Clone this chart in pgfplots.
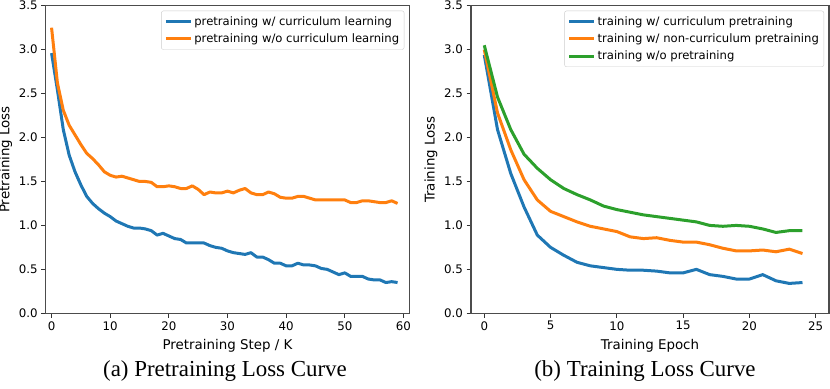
\documentclass[border=0pt]{standalone}
\usepackage{pgfplots}
\pgfplotsset{compat=1.18}
\usepackage{fontspec}
\setmainfont{DejaVu Sans}
\newfontfamily\capfont{Liberation Serif}
\definecolor{tabblue}{HTML}{1F77B4}
\definecolor{taborange}{HTML}{FF7F0E}
\definecolor{tabgreen}{HTML}{2CA02C}

\pgfplotsset{
  lossax/.style={
    scale only axis, width=363.6bp, height=307.6bp,
    ymin=0, ymax=3.5, ytick={0,0.5,1,1.5,2,2.5,3,3.5},
    tick pos=left, tick align=outside, major tick length=4.5bp,
    every tick/.style={black!80, line width=0.9bp},
    axis line style={black!70, line width=1.1bp},
    /pgf/number format/assume math mode=true,
    ticklabel style={font=\fontsize{11.8bp}{13bp}\selectfont},
    yticklabel style={/pgf/number format/.cd, fixed, fixed zerofill, precision=1},
    xticklabel style={/pgf/number format/fixed},
    label style={font=\fontsize{13.4bp}{15bp}\selectfont},
    xlabel style={yshift=-2bp},
    legend cell align=left,
    legend style={at={(1,1)}, anchor=north east, xshift=-5bp, yshift=-5bp,
      draw=black!20, rounded corners=2bp, fill=white,
      font=\fontsize{11.6bp}{13bp}\selectfont, inner xsep=3bp, inner ysep=3.5bp,
      row sep=3bp},
    legend image code/.code={\draw[##1, line width=3bp] (0bp,0bp) -- (25bp,0bp);},
    every axis plot/.append style={line width=3bp, line join=round},
  }
}

\begin{document}
\begin{tikzpicture}
\useasboundingbox (0,0) rectangle (830bp,389bp);

% (a) pretraining loss
\begin{axis}[lossax, at={(45.7bp,75.7bp)}, anchor=south west,
    xmin=-1, xmax=61, xtick={0,10,20,30,40,50,60},
    xlabel={Pretraining Step / K}, ylabel={Pretraining Loss}]
\addplot[tabblue] coordinates {
  (0,2.96)(1,2.54)(2,2.09)(3,1.80)(4,1.61)(5,1.46)(6,1.33)(7,1.25)(8,1.19)(9,1.14)
  (10,1.10)(11,1.05)(12,1.02)(13,0.99)(14,0.97)(15,0.97)(16,0.96)(17,0.94)(18,0.89)(19,0.91)
  (20,0.88)(21,0.85)(22,0.84)(23,0.80)(24,0.80)(25,0.80)(26,0.80)(27,0.77)(28,0.75)(29,0.74)
  (30,0.71)(31,0.69)(32,0.68)(33,0.67)(34,0.69)(35,0.64)(36,0.64)(37,0.61)(38,0.57)(39,0.57)
  (40,0.54)(41,0.54)(42,0.57)(43,0.55)(44,0.55)(45,0.54)(46,0.51)(47,0.50)(48,0.47)(49,0.44)
  (50,0.46)(51,0.42)(52,0.42)(53,0.42)(54,0.39)(55,0.38)(56,0.38)(57,0.35)(58,0.36)(59,0.35)
};
\addlegendentry{pretraining w/ curriculum learning}
\addplot[taborange] coordinates {
  (0,3.25)(1,2.62)(2,2.31)(3,2.14)(4,2.03)(5,1.92)(6,1.82)(7,1.76)(8,1.69)(9,1.61)
  (10,1.57)(11,1.55)(12,1.56)(13,1.54)(14,1.52)(15,1.50)(16,1.50)(17,1.49)(18,1.44)(19,1.44)
  (20,1.45)(21,1.44)(22,1.42)(23,1.42)(24,1.45)(25,1.41)(26,1.35)(27,1.38)(28,1.37)(29,1.37)
  (30,1.39)(31,1.37)(32,1.40)(33,1.42)(34,1.37)(35,1.35)(36,1.35)(37,1.38)(38,1.36)(39,1.32)
  (40,1.31)(41,1.31)(42,1.33)(43,1.33)(44,1.31)(45,1.29)(46,1.29)(47,1.29)(48,1.29)(49,1.29)
  (50,1.29)(51,1.26)(52,1.26)(53,1.28)(54,1.28)(55,1.27)(56,1.26)(57,1.26)(58,1.28)(59,1.25)
};
\addlegendentry{pretraining w/o curriculum learning}
\end{axis}

% (b) training loss
\begin{axis}[lossax, width=358bp, at={(471bp,75.7bp)}, anchor=south west,
    xmin=-1, xmax=26, xtick={0,5,10,15,20,25},
    xlabel={Training Epoch}, ylabel={Training Loss}]
\addplot[tabblue] coordinates {
  (0,2.94)(1,2.09)(2,1.59)(3,1.21)(4,0.89)(5,0.75)(6,0.66)(7,0.58)(8,0.54)(9,0.52)
  (10,0.50)(11,0.49)(12,0.49)(13,0.48)(14,0.46)(15,0.46)(16,0.50)(17,0.44)(18,0.42)(19,0.39)
  (20,0.39)(21,0.44)(22,0.37)(23,0.34)(24,0.35)
};
\addlegendentry{training w/ curriculum pretraining}
\addplot[taborange] coordinates {
  (0,3.00)(1,2.28)(2,1.86)(3,1.52)(4,1.29)(5,1.16)(6,1.10)(7,1.04)(8,0.99)(9,0.96)
  (10,0.93)(11,0.87)(12,0.85)(13,0.86)(14,0.83)(15,0.81)(16,0.81)(17,0.78)(18,0.74)(19,0.71)
  (20,0.71)(21,0.72)(22,0.70)(23,0.73)(24,0.68)
};
\addlegendentry{training w/ non-curriculum pretraining}
\addplot[tabgreen] coordinates {
  (0,3.05)(1,2.46)(2,2.09)(3,1.81)(4,1.65)(5,1.52)(6,1.42)(7,1.35)(8,1.29)(9,1.22)
  (10,1.18)(11,1.15)(12,1.12)(13,1.10)(14,1.08)(15,1.06)(16,1.04)(17,1.00)(18,0.99)(19,1.00)
  (20,0.99)(21,0.96)(22,0.92)(23,0.94)(24,0.94)
};
\addlegendentry{training w/o pretraining}
\end{axis}

\node[anchor=base, font=\capfont\fontsize{23}{27}\selectfont] at (225bp,13bp) {(a) Pretraining Loss Curve};
\node[anchor=base, font=\capfont\fontsize{23}{27}\selectfont] at (645bp,13bp) {(b) Training Loss Curve};
\end{tikzpicture}
\end{document}
